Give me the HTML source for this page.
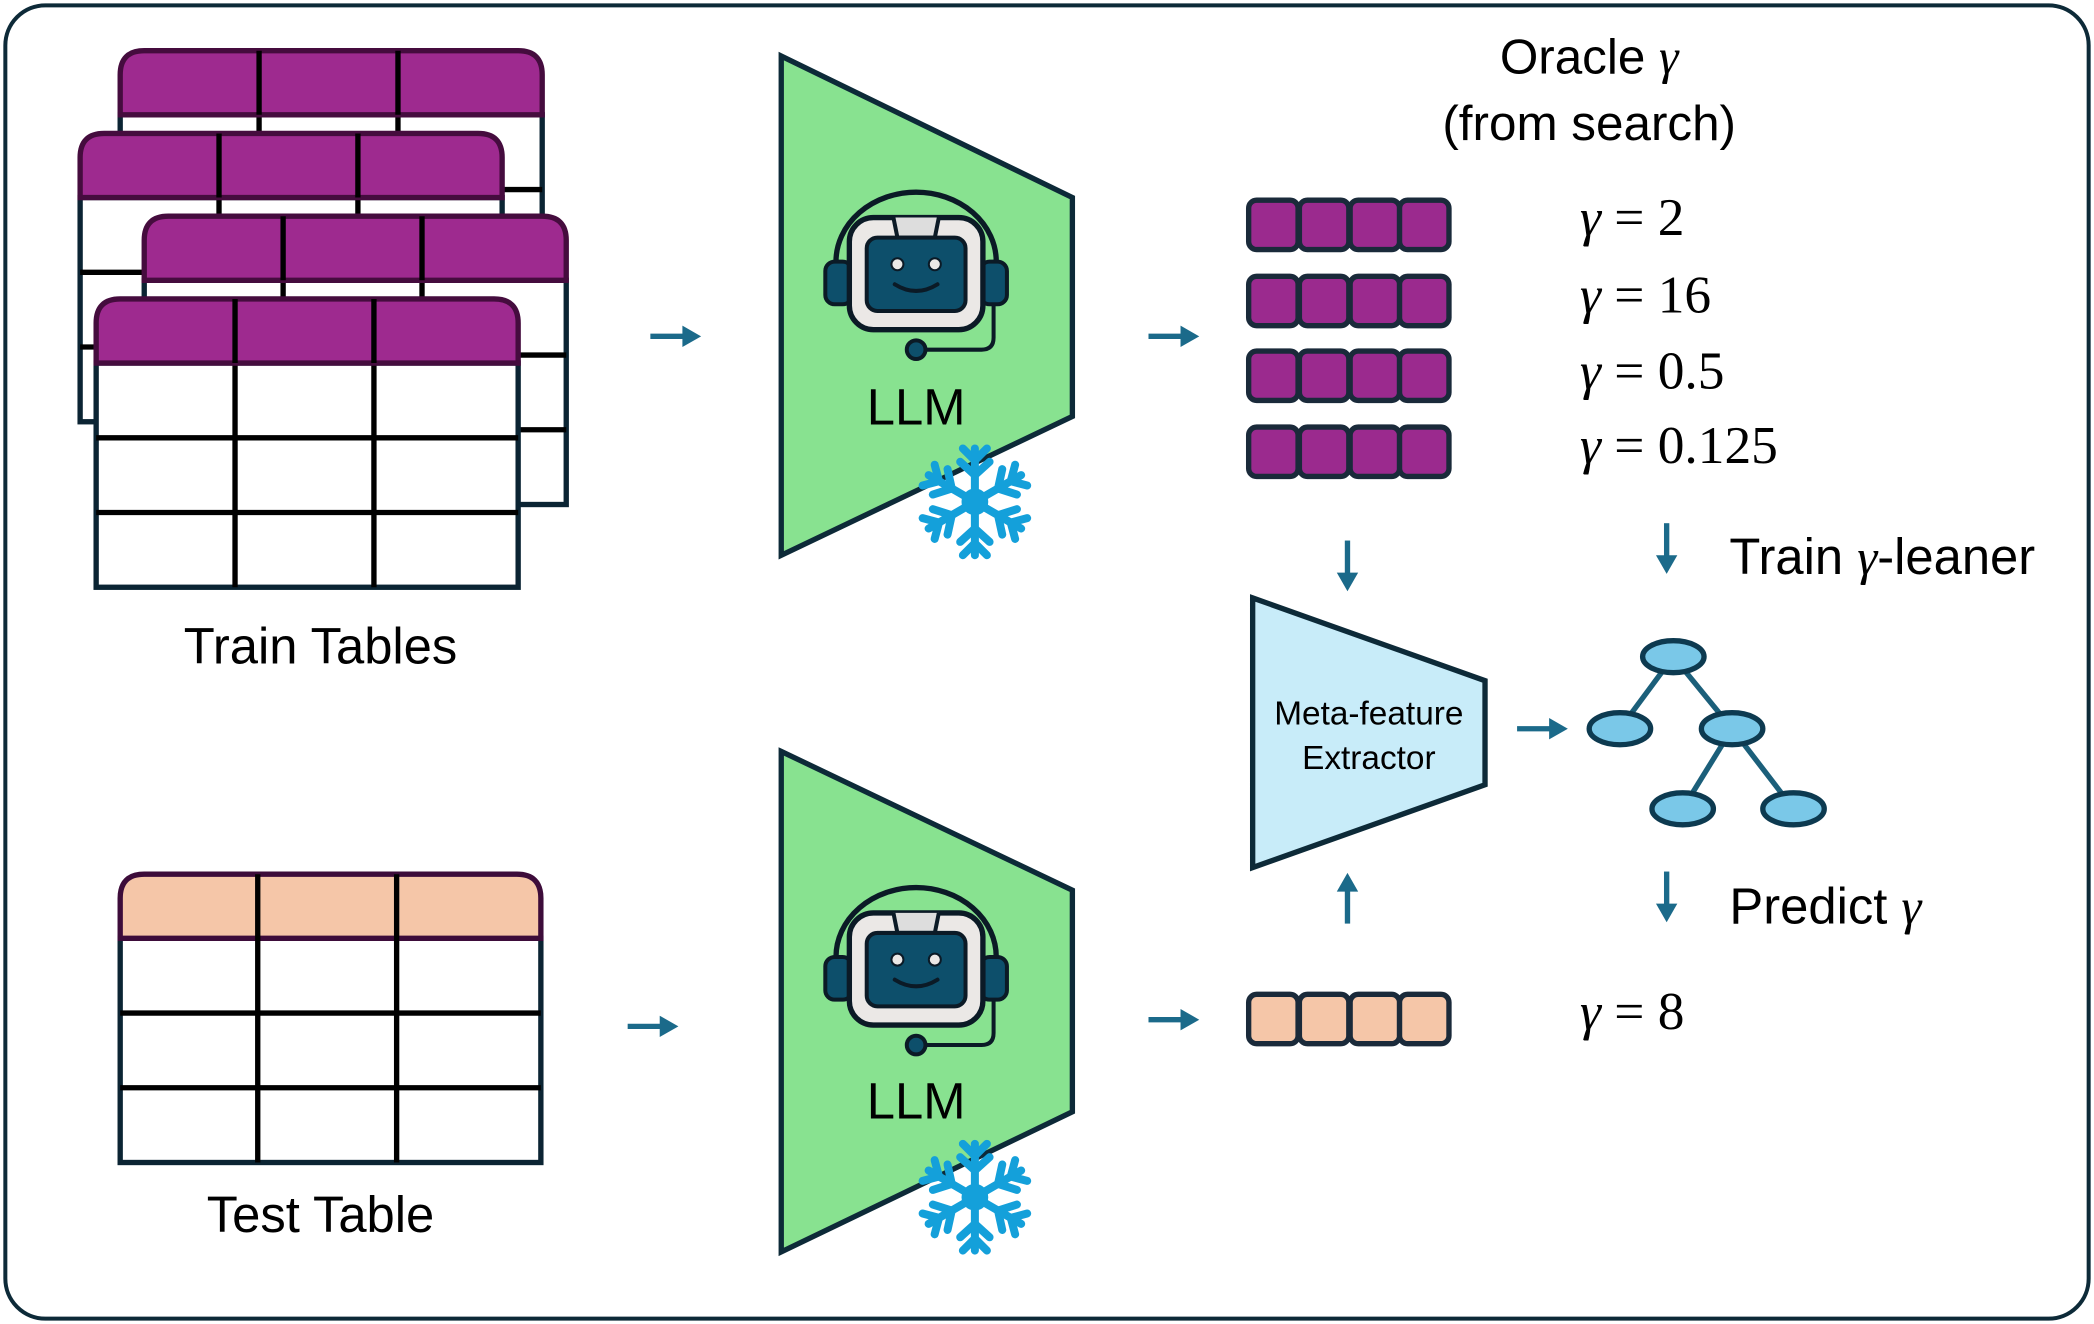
<!DOCTYPE html>
<html><head><meta charset="utf-8"><style>html,body{margin:0;padding:0;background:#fff}svg{display:block}</style></head><body>
<svg width="2094" height="1324" viewBox="0 0 1568 992" preserveAspectRatio="none" xmlns="http://www.w3.org/2000/svg">
<defs>
<g id="tb">
<rect x="0" y="48" width="316" height="168" fill="#fff" stroke="#0b2433" stroke-width="4"/>
<line x1="104" y1="0" x2="104" y2="216" stroke="#000" stroke-width="4"/>
<line x1="208" y1="0" x2="208" y2="216" stroke="#000" stroke-width="4"/>
<line x1="0" y1="104" x2="316" y2="104" stroke="#000" stroke-width="4"/>
<line x1="0" y1="160" x2="316" y2="160" stroke="#000" stroke-width="4"/>
</g>
<g id="tp"><path d="M0,48 V18 Q0,0 18,0 H298 Q316,0 316,18 V48 Z" fill="#9e2a8f" stroke="#450c3e" stroke-width="4"/>
<line x1="104" y1="0" x2="104" y2="48" stroke="#000" stroke-width="4"/><line x1="208" y1="0" x2="208" y2="48" stroke="#000" stroke-width="4"/></g>
<g id="robot">
<path d="M-60,55 V45 A60,52 0 0 1 60,45 V55" fill="none" stroke="#0b1a26" stroke-width="4"/>
<rect x="-68" y="45" width="20" height="32" rx="7" fill="#0d4f6b" stroke="#0b1a26" stroke-width="3"/>
<rect x="48" y="45" width="20" height="32" rx="7" fill="#0d4f6b" stroke="#0b1a26" stroke-width="3"/>
<rect x="-50" y="12" width="100" height="84" rx="18" fill="#ebe8e6" stroke="#0b1a26" stroke-width="4"/>
<path d="M-17,12 L-14,27 H14 L17,12" fill="#ddd" stroke="#0b1a26" stroke-width="3"/>
<rect x="-37" y="27" width="74" height="55" rx="8" fill="#0d4f6b" stroke="#0b1a26" stroke-width="3"/>
<circle cx="-14" cy="47" r="4.5" fill="#ebe8e6" stroke="#0b1a26" stroke-width="1.5"/>
<circle cx="14" cy="47" r="4.5" fill="#ebe8e6" stroke="#0b1a26" stroke-width="1.5"/>
<path d="M-16,62 Q0,72 16,62" fill="none" stroke="#0b1a26" stroke-width="3" stroke-linecap="round"/>
<path d="M58,77 V102 Q58,111 49,111 H6" fill="none" stroke="#0b1a26" stroke-width="3"/>
<circle cx="0" cy="111" r="7" fill="#0d4f6b" stroke="#0b1a26" stroke-width="3"/>
</g>
<g id="arm" stroke="#14a0da" stroke-width="6" stroke-linecap="round" fill="none">
<line x1="0" y1="0" x2="0" y2="-40"/><polyline points="-11,-30 0,-20 11,-30"/><polyline points="-9,-40 0,-31 9,-40"/>
</g>
<g id="snow"><use href="#arm"/><use href="#arm" transform="rotate(60)"/><use href="#arm" transform="rotate(120)"/><use href="#arm" transform="rotate(180)"/><use href="#arm" transform="rotate(240)"/><use href="#arm" transform="rotate(300)"/><circle r="10" fill="#14a0da"/></g>
<g id="ar"><line x1="0" y1="0" x2="28" y2="0" stroke="#1b6a8a" stroke-width="4"/><path d="M24,-8 L38,0 L24,8 Z" fill="#1b6a8a"/></g>
<g id="vec"><rect x="0" y="0" width="37" height="37" rx="6" stroke="#1a2a3a" stroke-width="4"/><rect x="38" y="0" width="37" height="37" rx="6" stroke="#1a2a3a" stroke-width="4"/><rect x="76" y="0" width="37" height="37" rx="6" stroke="#1a2a3a" stroke-width="4"/><rect x="113" y="0" width="37" height="37" rx="6" stroke="#1a2a3a" stroke-width="4"/></g>
</defs>
<rect x="4" y="4" width="1560" height="984" rx="30" fill="#fff" stroke="#0d2a38" stroke-width="3"/>

<g transform="translate(90,38)"><use href="#tb"/><use href="#tp"/></g>
<g transform="translate(60,100)"><use href="#tb"/><use href="#tp"/></g>
<g transform="translate(108,162)"><use href="#tb"/><use href="#tp"/></g>
<g transform="translate(72,224)"><use href="#tb"/><use href="#tp"/></g>

<g transform="translate(90,655)"><rect x="0" y="48" width="315" height="168" fill="#fff" stroke="#0b2433" stroke-width="4"/>
<path d="M0,48 V18 Q0,0 18,0 H297 Q315,0 315,18 V48 Z" fill="#f5c6a8" stroke="#3d0c3a" stroke-width="4"/>
<line x1="103" y1="0" x2="103" y2="216" stroke="#000" stroke-width="4"/><line x1="207" y1="0" x2="207" y2="216" stroke="#000" stroke-width="4"/>
<line x1="0" y1="104" x2="315" y2="104" stroke="#000" stroke-width="4"/><line x1="0" y1="160" x2="315" y2="160" stroke="#000" stroke-width="4"/></g>

<g font-family="Liberation Sans, sans-serif" fill="#000">
<text x="240" y="497" font-size="38" text-anchor="middle">Train Tables</text>
<text x="240" y="923" font-size="38" text-anchor="middle">Test Table</text>
</g>

<polygon points="585,42 803,148 803,312 585,416" fill="#88e290" stroke="#0d2a38" stroke-width="4"/>
<polygon points="585,563 803,667 803,833 585,938" fill="#88e290" stroke="#0d2a38" stroke-width="4"/>
<use href="#robot" transform="translate(686,151)"/>
<use href="#robot" transform="translate(686,672)"/>
<text x="686" y="318" font-family="Liberation Sans, sans-serif" font-size="38" text-anchor="middle">LLM</text>
<text x="686" y="838" font-family="Liberation Sans, sans-serif" font-size="38" text-anchor="middle">LLM</text>
<use href="#snow" transform="translate(730,376)"/>
<use href="#snow" transform="translate(730,897)"/>

<use href="#ar" transform="translate(487,252)"/>
<use href="#ar" transform="translate(860,252)"/>
<use href="#ar" transform="translate(470,769)"/>
<use href="#ar" transform="translate(860,764)"/>
<use href="#ar" transform="translate(1136,546)"/>
<use href="#ar" transform="translate(1009,405) rotate(90)"/>
<use href="#ar" transform="translate(1248,392) rotate(90)"/>
<use href="#ar" transform="translate(1248,653) rotate(90)"/>
<use href="#ar" transform="translate(1009,692) rotate(-90)"/>

<use href="#vec" transform="translate(935,150)" fill="#9b2a8e"/>
<use href="#vec" transform="translate(935,207)" fill="#9b2a8e"/>
<use href="#vec" transform="translate(935,263)" fill="#9b2a8e"/>
<use href="#vec" transform="translate(935,320)" fill="#9b2a8e"/>
<use href="#vec" transform="translate(935,745)" fill="#f5c6a8"/>

<g font-family="Liberation Sans, sans-serif" font-size="37" text-anchor="middle">
<text x="1190" y="55">Oracle <tspan font-family="Liberation Serif, serif" font-style="italic">γ</tspan></text>
<text x="1190" y="105">(from search)</text>
</g>
<g font-family="Liberation Serif, serif" font-size="40" xml:space="preserve">
<text x="1183" y="176"><tspan font-style="italic">γ</tspan>  =  2</text>
<text x="1183" y="234"><tspan font-style="italic">γ</tspan>  =  16</text>
<text x="1183" y="291"><tspan font-style="italic">γ</tspan>  =  0.5</text>
<text x="1183" y="347"><tspan font-style="italic">γ</tspan>  =  0.125</text>
<text x="1183" y="771"><tspan font-style="italic">γ</tspan>  =  8</text>
</g>
<g font-family="Liberation Sans, sans-serif" font-size="38">
<text x="1295" y="430">Train <tspan font-family="Liberation Serif, serif" font-style="italic">γ</tspan>-leaner</text>
<text x="1295" y="692">Predict <tspan font-family="Liberation Serif, serif" font-style="italic">γ</tspan></text>
</g>

<polygon points="938,448 1112,510 1112,588 938,650" fill="#c8ecf9" stroke="#0d2a38" stroke-width="4"/>
<text x="1025" y="543" font-family="Liberation Sans, sans-serif" font-size="25" text-anchor="middle">Meta-feature</text>
<text x="1025" y="576" font-family="Liberation Sans, sans-serif" font-size="25" text-anchor="middle">Extractor</text>

<g stroke="#1b5f7a" stroke-width="4">
<line x1="1253" y1="492" x2="1213" y2="546"/><line x1="1253" y1="492" x2="1297" y2="546"/>
<line x1="1297" y1="546" x2="1260" y2="606"/><line x1="1297" y1="546" x2="1343" y2="606"/>
</g>
<g fill="#7ac8e8" stroke="#0d3a50" stroke-width="4">
<ellipse cx="1253" cy="492" rx="23" ry="12"/><ellipse cx="1213" cy="546" rx="23" ry="12"/><ellipse cx="1297" cy="546" rx="23" ry="12"/><ellipse cx="1260" cy="606" rx="23" ry="12"/><ellipse cx="1343" cy="606" rx="23" ry="12"/>
</g>
</svg>
</body></html>
